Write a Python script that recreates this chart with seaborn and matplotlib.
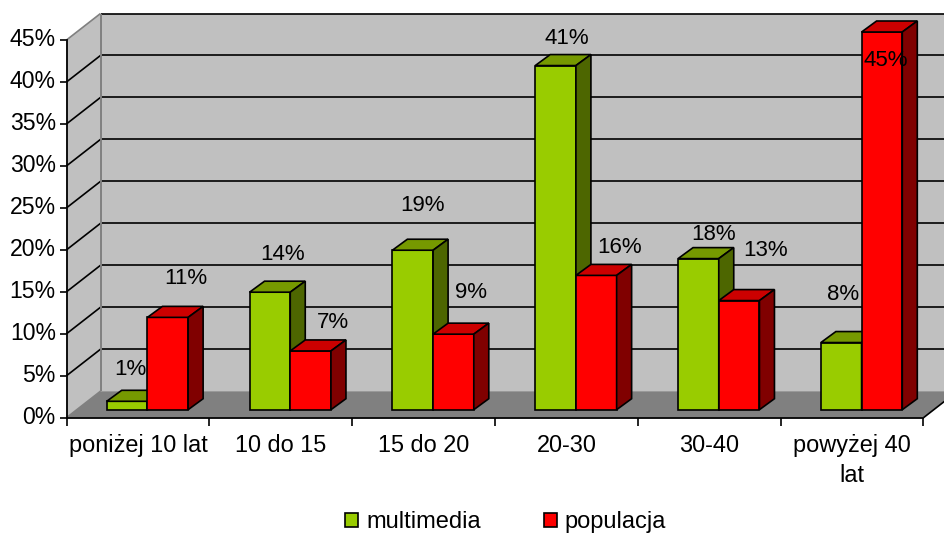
import matplotlib
matplotlib.use("Agg")
import matplotlib.pyplot as plt
import numpy as np
import pandas as pd
import seaborn as sns
from matplotlib.patches import Polygon
from matplotlib.transforms import Affine2D, IdentityTransform

categories = ["poniżej 10 lat", "10 do 15", "15 do 20", "20-30", "30-40", "powyżej 40\nlat"]
multimedia = [1, 14, 19, 41, 18, 8]
populacja = [11, 7, 9, 16, 13, 45]
series_names = ["multimedia", "populacja"]
y_ticks = [0, 5, 10, 15, 20, 25, 30, 35, 40, 45]

FACE = {"multimedia": "#99CC00", "populacja": "#FF0000"}
TOP = {"multimedia": "#769900", "populacja": "#CC0000"}
SIDE = {"multimedia": "#4D6600", "populacja": "#800000"}
WALL = "#C0C0C0"
FLOOR = "#808080"

# Pixel depth of the box, of the bars, and how far the bars sit behind the front plane
BOX_DX, BOX_DY = 34, 26.5
BAR_DX, BAR_DY = 15, 11
PLANE_DX, PLANE_DY = 9.5, 8

# Label nudges in pixels, relative to the top centre of each bar
label_nudge = {
    "multimedia": [(3, 32), (13, 38), (10, 45), (11, 27), (15, 24), (2, 48)],
    "populacja": [(18, 39), (22, 28), (18, 42), (23, 28), (26, 50), (4, -28)],
}

sns.set_theme(style="white")
plt.rcParams["font.family"] = ["Liberation Sans", "DejaVu Sans"]
plt.rcParams["text.color"] = "black"
FS = 16.6

W, H = 944, 535
fig = plt.figure(figsize=(W / 100, H / 100), dpi=100, facecolor="white")
ax = fig.add_axes([66.5 / W, (H - 417.7) / H, 857 / W, 377.7 / H])

df = pd.DataFrame({
    "kategoria": categories * 2,
    "seria": [series_names[0]] * 6 + [series_names[1]] * 6,
    "udzial": multimedia + populacja,
})
sns.barplot(data=df, x="kategoria", y="udzial", hue="seria", hue_order=series_names,
            palette=FACE, saturation=1, width=0.57, gap=0, edgecolor="black",
            linewidth=1.2, ax=ax, zorder=3)
ax.set_xlim(-0.5, 5.5)
ax.set_ylim(0, 45)
ax.set_xlabel("")
ax.set_ylabel("")
ax.patch.set_visible(False)


def disp(x, y, dx=0, dy=0):
    px = ax.transData.transform((x, y))
    return (px[0] + dx, px[1] + dy)


def poly(points, face, edge="none", lw=0.0, z=1):
    shape = Polygon(points, closed=True, facecolor=face, edgecolor=edge, linewidth=lw,
                    transform=IdentityTransform(), zorder=z, clip_on=False,
                    joinstyle="miter")
    ax.add_patch(shape)


def line(p, q, color="black", lw=1.2, z=1.5):
    ax.plot([p[0], q[0]], [p[1], q[1]], color=color, lw=lw, transform=IdentityTransform(),
            zorder=z, clip_on=False, solid_capstyle="butt")


# Box: back wall, left wall and floor
xl, xr = -0.5, 5.5
poly([disp(xl, 0, BOX_DX, BOX_DY), disp(xr, 0, BOX_DX, BOX_DY),
      disp(xr, 45, BOX_DX, BOX_DY), disp(xl, 45, BOX_DX, BOX_DY)], WALL)
poly([disp(xl, 0), disp(xl, 45), disp(xl, 45, BOX_DX, BOX_DY), disp(xl, 0, BOX_DX, BOX_DY)], WALL)
poly([disp(xl, 0), disp(xr, 0), disp(xr, 0, BOX_DX, BOX_DY), disp(xl, 0, BOX_DX, BOX_DY)], FLOOR)

# Gridlines wrap from the left wall onto the back wall
for v in y_ticks[1:]:
    line(disp(xl, v, BOX_DX, BOX_DY), disp(xr, v, BOX_DX, BOX_DY))
    if v < 45:
        line(disp(xl, v), disp(xl, v, BOX_DX, BOX_DY))
line(disp(xl, 45), disp(xl, 45, BOX_DX, BOX_DY), color=FLOOR, lw=1.2)
line(disp(xl, 0), disp(xl, 0, BOX_DX, BOX_DY), color=FLOOR, lw=1.2)
line(disp(xl, 0, BOX_DX, BOX_DY), disp(xl, 45, BOX_DX, BOX_DY), color=FLOOR, lw=1.4, z=1.6)
line(disp(xr, 0), disp(xr, 0, BOX_DX, BOX_DY))

# Push the bars back into the box and give them a top and a side
shift = ax.transData + Affine2D().translate(PLANE_DX, PLANE_DY)
for s_idx, (name, container) in enumerate(zip(series_names, ax.containers)):
    values = multimedia if s_idx == 0 else populacja
    for k, (bar, val) in enumerate(zip(container, values)):
        bar.set_transform(shift)
        bar.set_clip_on(False)
        bar.set_zorder(3 + s_idx)
        x0, x1 = bar.get_x(), bar.get_x() + bar.get_width()
        a = disp(x0, val, PLANE_DX, PLANE_DY)
        b = disp(x1, val, PLANE_DX, PLANE_DY)
        c = disp(x1, 0, PLANE_DX, PLANE_DY)
        poly([a, b, (b[0] + BAR_DX, b[1] + BAR_DY), (a[0] + BAR_DX, a[1] + BAR_DY)],
             TOP[name], "black", 1.2, 3 + s_idx)
        poly([b, c, (c[0] + BAR_DX, c[1] + BAR_DY), (b[0] + BAR_DX, b[1] + BAR_DY)],
             SIDE[name], "black", 1.2, 3 + s_idx)
        nx, ny = label_nudge[name][k]
        top_c = ax.transData.inverted().transform(disp((x0 + x1) / 2, val, PLANE_DX, PLANE_DY))
        ax.annotate(f"{val}%", xy=top_c, xytext=(nx, ny), textcoords="offset pixels",
                    ha="center", va="center", fontsize=FS - 0.6, color="black",
                    zorder=6, annotation_clip=False)

# Axes frame and ticks
for side in ("top", "right"):
    ax.spines[side].set_visible(False)
for side in ("left", "bottom"):
    ax.spines[side].set_color("black")
    ax.spines[side].set_linewidth(1.3)
    ax.spines[side].set_zorder(2)
ax.set_yticks(y_ticks, [f"{v}%" for v in y_ticks])
ax.set_xticks(np.arange(6), categories, linespacing=1.38)
ax.set_xticks(np.arange(-0.5, 6), minor=True)
ax.tick_params(axis="y", length=5, width=1.2, color="black", labelcolor="black",
               labelsize=FS, pad=2, left=True)
ax.tick_params(axis="x", which="major", length=0, labelcolor="black", labelsize=16.9, pad=12)
ax.tick_params(axis="x", which="minor", length=6, width=1.2, color="black", bottom=True)
for label in ax.get_yticklabels():
    label.set_transform(label.get_transform() + Affine2D().translate(-1, 2.5))

sns.move_legend(ax, loc="center left", bbox_to_anchor=(345 / W, (H - 522) / H),
                bbox_transform=fig.transFigure, ncol=2, title=None, frameon=False,
                fontsize=17, labelcolor="black", handlelength=0.55, handleheight=0.55,
                handletextpad=0.34, columnspacing=2.67, borderpad=0, borderaxespad=0)

fig.savefig("out.png", dpi=100, facecolor="white")
